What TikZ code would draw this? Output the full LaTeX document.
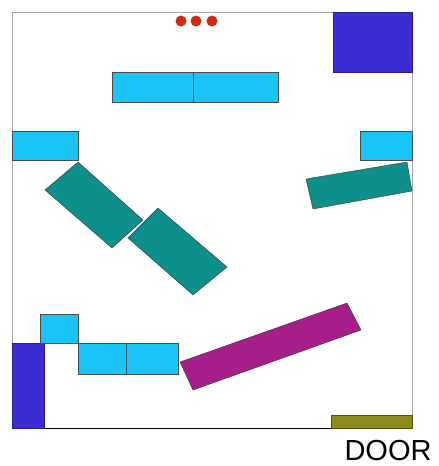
\documentclass[tikz,border=0pt]{standalone}
\usepackage{fontspec}
\setsansfont{Liberation Sans}
\definecolor{shelf}{HTML}{18C4F8}
\definecolor{table}{HTML}{0E8F8C}
\definecolor{sofa}{HTML}{A51E8A}
\definecolor{wall}{HTML}{3A2ED2}
\definecolor{doorc}{HTML}{8C8C1E}
\definecolor{dotc}{HTML}{D02A10}
\begin{document}
\begin{tikzpicture}[x=1pt,y=-1pt]
    \useasboundingbox (0,0) rectangle (439,466);
    % The room itself.
        \draw[gray!70, thick] (12,428) -- (12,12) -- (412,12) -- (412,428);
        \draw[black, thick] (12,428) -- (412,428);
    % Blue blocks in the corners.
        \draw[fill=wall, draw=wall!70!black] (333,12) rectangle (412,72);
        \draw[fill=wall, draw=wall!70!black] (12,343) rectangle (44,428);
    % Light blue shelves.
        \draw[fill=shelf, draw=black!70] (112,72) rectangle (193,102);
        \draw[fill=shelf, draw=black!70] (193,72) rectangle (278,102);
        \draw[fill=shelf, draw=black!70] (12,131) rectangle (78,160);
        \draw[fill=shelf, draw=black!70] (360,131) rectangle (412,160);
        \draw[fill=shelf, draw=black!70] (40,314) rectangle (78,343);
        \draw[fill=shelf, draw=black!70] (78,343) rectangle (126,374);
        \draw[fill=shelf, draw=black!70] (126,343) rectangle (178,374);
    % Tilted tables.
        \draw[fill=table, draw=black!80] (78,162) -- (143,220) -- (112,248) -- (45,190) -- cycle;
        \draw[fill=table, draw=black!80] (158,208) -- (227,267) -- (193,295) -- (128,238) -- cycle;
        \draw[fill=table, draw=black!80] (306,179) -- (407,162) -- (412,191) -- (313,209) -- cycle;
    % The sofa.
        \draw[fill=sofa, draw=black!80] (180,362) -- (347,303) -- (361,330) -- (193,390) -- cycle;
    % Door and the three dots.
        \draw[fill=doorc, draw=doorc!60!black] (331,415) rectangle (412,428);
        \foreach \x in {181,196,212}
            \fill[dotc] (\x,21) circle (5.5);
    % Below node is the label.
        \node[font=\sffamily\fontsize{29}{29}\selectfont, inner sep=0] at (388,451) {DOOR};
\end{tikzpicture}
\end{document}
